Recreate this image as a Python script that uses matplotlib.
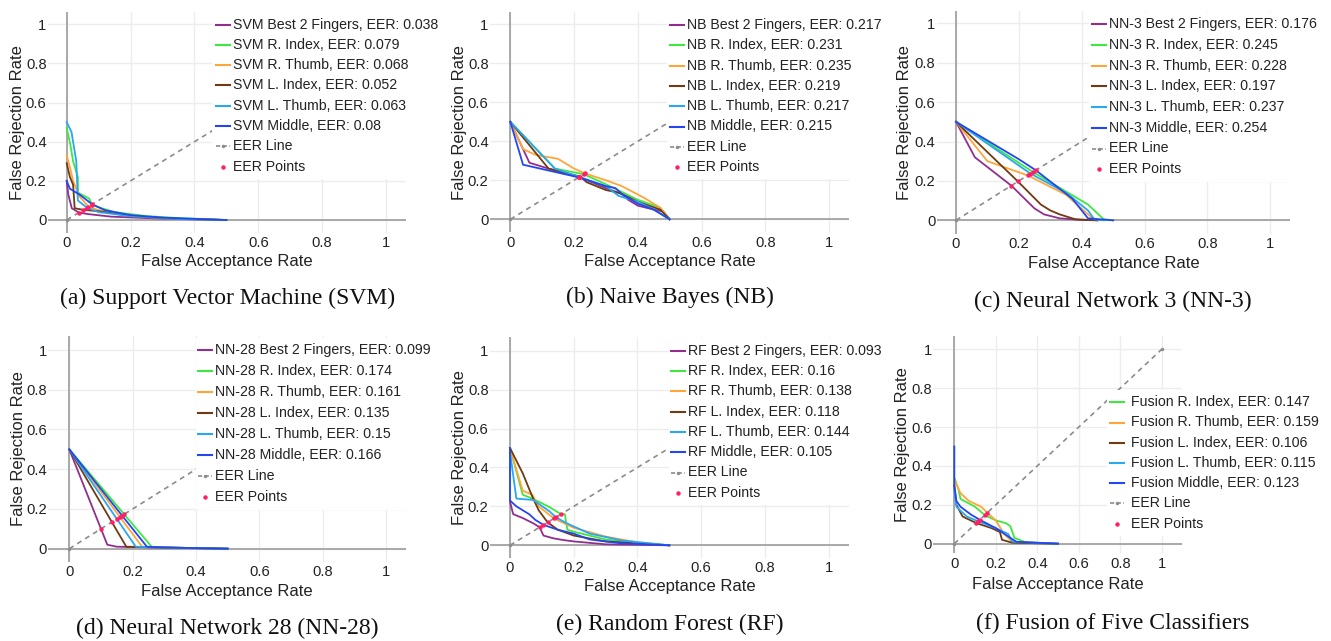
import matplotlib
matplotlib.use("Agg")
import matplotlib.pyplot as plt
from matplotlib.lines import Line2D
from matplotlib.patches import Rectangle

# ---------------- data ----------------
series_names = ["Best 2 Fingers", "R. Index", "R. Thumb", "L. Index", "L. Thumb", "Middle"]
series_colors = ["#912f8f", "#3ee83e", "#ffa53a", "#6e3b12", "#2aa6f2", "#2446f0"]

ticks = [0, 0.2, 0.4, 0.6, 0.8, 1]
tick_labels = ["0", "0.2", "0.4", "0.6", "0.8", "1"]

# (a) SVM  -- FAR (x) / FRR (y) pairs per finger
svm_eer = [0.038, 0.079, 0.068, 0.052, 0.063, 0.08]
svm_far = [
    [0, 0.005, 0.016, 0.038, 0.068, 0.14, 0.28, 0.5],
    [0, 0.012, 0.02, 0.035, 0.035, 0.07, 0.079, 0.1, 0.15, 0.25, 0.35, 0.5],
    [0, 0.01, 0.02, 0.04, 0.068, 0.1, 0.2, 0.35, 0.5],
    [0, 0.01, 0.02, 0.025, 0.052, 0.1, 0.2, 0.35, 0.5],
    [0, 0.015, 0.03, 0.035, 0.063, 0.1, 0.2, 0.35, 0.5],
    [0, 0.01, 0.04, 0.08, 0.12, 0.2, 0.3, 0.5],
]
svm_frr = [
    [0.2, 0.13, 0.06, 0.038, 0.03, 0.017, 0.008, 0],
    [0.47, 0.38, 0.3, 0.22, 0.14, 0.11, 0.079, 0.065, 0.04, 0.02, 0.01, 0],
    [0.33, 0.27, 0.2, 0.12, 0.068, 0.05, 0.02, 0.005, 0],
    [0.29, 0.22, 0.18, 0.06, 0.052, 0.045, 0.02, 0.006, 0],
    [0.5, 0.45, 0.3, 0.1, 0.063, 0.04, 0.02, 0.005, 0],
    [0.2, 0.16, 0.13, 0.08, 0.05, 0.025, 0.012, 0],
]

# (b) Naive Bayes
nb_eer = [0.217, 0.231, 0.235, 0.219, 0.217, 0.215]
nb_far = [
    [0, 0.06, 0.12, 0.217, 0.3, 0.35, 0.37, 0.4, 0.45, 0.48, 0.5],
    [0, 0.14, 0.231, 0.3, 0.35, 0.4, 0.47, 0.5],
    [0, 0.04, 0.08, 0.15, 0.2, 0.235, 0.3, 0.35, 0.42, 0.47, 0.5],
    [0, 0.12, 0.219, 0.24, 0.3, 0.33, 0.35, 0.4, 0.47, 0.5],
    [0, 0.14, 0.217, 0.3, 0.34, 0.4, 0.45, 0.5],
    [0, 0.04, 0.215, 0.3, 0.33, 0.35, 0.4, 0.45, 0.5],
]
nb_frr = [
    [0.5, 0.29, 0.26, 0.217, 0.16, 0.13, 0.1, 0.07, 0.05, 0.04, 0],
    [0.5, 0.26, 0.231, 0.18, 0.14, 0.1, 0.06, 0],
    [0.5, 0.36, 0.33, 0.31, 0.26, 0.235, 0.2, 0.17, 0.11, 0.06, 0],
    [0.5, 0.26, 0.219, 0.19, 0.15, 0.14, 0.13, 0.09, 0.05, 0],
    [0.5, 0.26, 0.217, 0.17, 0.12, 0.09, 0.05, 0],
    [0.5, 0.28, 0.215, 0.17, 0.16, 0.13, 0.08, 0.05, 0],
]

# (c) Neural Network 3
nn3_eer = [0.176, 0.245, 0.228, 0.197, 0.237, 0.254]
nn3_far = [
    [0, 0.06, 0.176, 0.25, 0.28, 0.33, 0.4, 0.45],
    [0, 0.245, 0.42, 0.47, 0.5],
    [0, 0.1, 0.228, 0.35, 0.42, 0.44, 0.45],
    [0, 0.197, 0.27, 0.3, 0.33, 0.38, 0.45],
    [0, 0.237, 0.35, 0.42, 0.44, 0.47],
    [0, 0.2, 0.254, 0.37, 0.42, 0.5],
]
nn3_frr = [
    [0.5, 0.32, 0.176, 0.06, 0.03, 0.01, 0.002, 0],
    [0.5, 0.245, 0.08, 0.005, 0],
    [0.5, 0.3, 0.228, 0.13, 0.03, 0.005, 0],
    [0.5, 0.197, 0.08, 0.05, 0.03, 0.005, 0],
    [0.5, 0.237, 0.14, 0.05, 0.005, 0],
    [0.5, 0.31, 0.254, 0.11, 0.01, 0],
]

# (d) Neural Network 28
nn28_eer = [0.099, 0.174, 0.161, 0.135, 0.15, 0.166]
nn28_far = [
    [0, 0.12, 0.15, 0.3, 0.5],
    [0, 0.26, 0.3, 0.5],
    [0, 0.23, 0.3, 0.5],
    [0, 0.18, 0.3, 0.5],
    [0, 0.21, 0.3, 0.5],
    [0, 0.245, 0.3, 0.5],
]
nn28_frr = [
    [0.5, 0.02, 0.01, 0.005, 0],
    [0.5, 0.01, 0.006, 0],
    [0.5, 0.01, 0.006, 0],
    [0.5, 0.01, 0.006, 0],
    [0.5, 0.01, 0.006, 0],
    [0.5, 0.01, 0.006, 0],
]

# (e) Random Forest
rf_eer = [0.093, 0.16, 0.138, 0.118, 0.144, 0.105]
rf_far = [
    [0, 0.01, 0.04, 0.073, 0.093, 0.105, 0.136, 0.167, 0.2, 0.3, 0.5],
    [0, 0.04, 0.07, 0.12, 0.14, 0.16, 0.172, 0.18, 0.2, 0.3, 0.4, 0.5],
    [0, 0.04, 0.07, 0.09, 0.138, 0.2, 0.3, 0.4, 0.5],
    [0, 0.04, 0.07, 0.09, 0.118, 0.15, 0.2, 0.3, 0.5],
    [0, 0.02, 0.073, 0.125, 0.144, 0.178, 0.25, 0.35, 0.5],
    [0, 0, 0.02, 0.06, 0.08, 0.105, 0.15, 0.2, 0.25, 0.35, 0.5],
]
rf_frr = [
    [0.224, 0.16, 0.14, 0.113, 0.093, 0.05, 0.036, 0.027, 0.02, 0.005, 0],
    [0.5, 0.26, 0.24, 0.2, 0.18, 0.16, 0.16, 0.08, 0.07, 0.03, 0.01, 0],
    [0.5, 0.28, 0.26, 0.2, 0.138, 0.09, 0.045, 0.015, 0],
    [0.5, 0.37, 0.25, 0.18, 0.118, 0.08, 0.05, 0.02, 0],
    [0.48, 0.24, 0.233, 0.173, 0.144, 0.113, 0.06, 0.025, 0],
    [0.5, 0.23, 0.2, 0.16, 0.13, 0.105, 0.08, 0.06, 0.03, 0.01, 0],
]

# (f) Fusion of five classifiers (no "Best 2 Fingers")
fusion_eer = [0.147, 0.159, 0.106, 0.115, 0.123]
fusion_far = [
    [0, 0.02, 0.03, 0.1, 0.147, 0.2, 0.25, 0.27, 0.29, 0.35, 0.5],
    [0, 0.03, 0.07, 0.13, 0.159, 0.2, 0.24, 0.28, 0.5],
    [0, 0.01, 0.04, 0.106, 0.18, 0.22, 0.23, 0.28, 0.5],
    [0, 0.01, 0.03, 0.06, 0.115, 0.2, 0.26, 0.28, 0.5],
    [0, 0, 0.01, 0.03, 0.08, 0.123, 0.2, 0.27, 0.3, 0.5],
]
fusion_frr = [
    [0.34, 0.28, 0.23, 0.19, 0.147, 0.12, 0.105, 0.09, 0.03, 0.005, 0],
    [0.33, 0.26, 0.22, 0.19, 0.159, 0.12, 0.05, 0.01, 0],
    [0.3, 0.2, 0.14, 0.106, 0.08, 0.06, 0.02, 0.005, 0],
    [0.28, 0.19, 0.17, 0.14, 0.115, 0.08, 0.05, 0.01, 0],
    [0.5, 0.3, 0.22, 0.19, 0.15, 0.123, 0.08, 0.03, 0.01, 0],
]

# ---------------- layout (pixel geometry of each panel) ----------------
W, H = 1331, 641
SANS = ["Liberation Sans", "DejaVu Sans"]
SERIF = ["Liberation Serif", "DejaVu Serif"]
EER_LINE_COLOR = "#8c8c8c"
EER_PT_COLOR = "#ff1f66"

panels = [
    dict(prefix="SVM", far=svm_far, frr=svm_frr, eer=svm_eer, idx=[0, 1, 2, 3, 4, 5],
         caption="(a) Support Vector Machine (SVM)",
         x0=66.7, x1=386, y0=220, y1=24.3, L=48, R=406, T=11.7, B=233,
         sx=216, tx=233, ly=24.5, dy=20.3, bl=212, bt=12, br=446, ylx=17.5, xly=261.7, cx=227.5, cy=298.3),
    dict(prefix="NB", far=nb_far, frr=nb_frr, eer=nb_eer, idx=[0, 1, 2, 3, 4, 5],
         caption="(b) Naive Bayes (NB)",
         x0=510.3, x1=829, y0=219.3, y1=24.3, L=490, R=849, T=11.7, B=232.5,
         sx=670, tx=687.3, ly=25, dy=20.3, bl=667, bt=12, br=889, ylx=459.5, xly=261.7, cx=669.6, cy=297.7),
    dict(prefix="NN-3", far=nn3_far, frr=nn3_frr, eer=nn3_eer, idx=[0, 1, 2, 3, 4, 5],
         caption="(c) Neural Network 3 (NN-3)",
         x0=956, x1=1270.3, y0=220.3, y1=23.3, L=936.7, R=1290, T=11, B=233.5,
         sx=1091.7, tx=1109.3, ly=24.3, dy=20.7, bl=1089, bt=12, br=1331, ylx=905, xly=263.3, cx=1112.7, cy=301.7),
    dict(prefix="NN-28", far=nn28_far, frr=nn28_frr, eer=nn28_eer, idx=[0, 1, 2, 3, 4, 5],
         caption="(d) Neural Network 28 (NN-28)",
         x0=69.3, x1=386, y0=548.7, y1=350, L=48.3, R=406, T=336, B=561.8,
         sx=197.7, tx=215, ly=350, dy=21, bl=196, bt=338, br=446, ylx=18.5, xly=591.7, cx=227, cy=628.3),
    dict(prefix="RF", far=rf_far, frr=rf_frr, eer=rf_eer, idx=[0, 1, 2, 3, 4, 5],
         caption="(e) Random Forest (RF)",
         x0=510, x1=828.7, y0=545.3, y1=350.7, L=490, R=849.3, T=336.7, B=558,
         sx=670.7, tx=688.3, ly=350.7, dy=20.3, bl=669, bt=338, br=889, ylx=459.5, xly=586.7, cx=669.5, cy=624),
    dict(prefix="Fusion", far=fusion_far, frr=fusion_frr, eer=fusion_eer, idx=[1, 2, 3, 4, 5],
         caption="(f) Fusion of Five Classifiers",
         x0=954.3, x1=1161.7, y0=543.7, y1=349.3, L=933.3, R=1181.7, T=336, B=553.3,
         sx=1110, tx=1130.7, ly=402.3, dy=20.2, bl=1107, bt=390, br=1331, ylx=902, xly=585, cx=1112.7, cy=623.3),
]


def fx(px):
    return px / W


def fy(py):
    return 1 - py / H


fig = plt.figure(figsize=(W / 100, H / 100), dpi=100)
fig.patch.set_facecolor("white")

for p in panels:
    ax = fig.add_axes([fx(p["L"]), fy(p["B"]), (p["R"] - p["L"]) / W, (p["B"] - p["T"]) / H])
    sxu = p["x1"] - p["x0"]
    syu = p["y0"] - p["y1"]
    ax.set_xlim((p["L"] - p["x0"]) / sxu, (p["R"] - p["x0"]) / sxu)
    ax.set_ylim((p["y0"] - p["B"]) / syu, (p["y0"] - p["T"]) / syu)
    for s in ax.spines.values():
        s.set_visible(False)
    ax.set_xticks(ticks)
    ax.set_xticklabels(tick_labels, fontfamily=SANS, fontsize=10.6, color="#222222")
    ax.set_yticks(ticks)
    ax.set_yticklabels(tick_labels, fontfamily=SANS, fontsize=10.6, color="#222222")
    ax.tick_params(axis="both", length=0)
    ax.tick_params(axis="x", pad=2.5)
    ax.tick_params(axis="y", pad=1.0)
    ax.grid(True, color="#ededed", lw=1.0, zorder=0)
    ax.set_axisbelow(True)
    ax.axhline(0, color="#a9a9a9", lw=1.4, zorder=1)
    ax.axvline(0, color="#a9a9a9", lw=1.4, zorder=1)

    # EER reference line
    ax.plot([0, 1], [0, 1], color=EER_LINE_COLOR, lw=1.2, ls=(0, (3, 2.6)),
            marker="o", ms=2.5, mec="none", zorder=2)

    for k, i in enumerate(p["idx"]):
        ax.plot(p["far"][k], p["frr"][k], color=series_colors[i], lw=1.3, zorder=3 + k,
                solid_joinstyle="round")
    ax.plot(p["eer"], p["eer"], ls="none", marker="o", ms=3.2, color=EER_PT_COLOR,
            mec="none", zorder=20)

    # axis titles
    fig.text(fx(p["ylx"]), fy((p["T"] + p["B"]) / 2), "False Rejection Rate", rotation=90,
             ha="center", va="center", fontfamily=SANS, fontsize=12, color="#222222")
    fig.text(fx((p["L"] + p["R"]) / 2), fy(p["xly"]), "False Acceptance Rate",
             ha="center", va="center", fontfamily=SANS, fontsize=12, color="#222222")

    # legend (white box covering the plot area behind it)
    n_rows = len(p["idx"]) + 2
    box_bottom = p["ly"] + (n_rows - 0.5) * p["dy"] + 2
    fig.add_artist(Rectangle((fx(p["bl"]), fy(box_bottom)), (p["br"] - p["bl"]) / W,
                             (box_bottom - p["bt"]) / H, transform=fig.transFigure,
                             facecolor="white", edgecolor="none", zorder=5))
    rows = [(series_names[i], series_colors[i]) for i in p["idx"]]
    for r, (name, col) in enumerate(rows):
        yy = p["ly"] + r * p["dy"]
        fig.add_artist(Line2D([fx(p["sx"]), fx(p["sx"] + 14)], [fy(yy), fy(yy)],
                              transform=fig.transFigure, color=col, lw=1.5, zorder=6))
        fig.text(fx(p["tx"]), fy(yy), f"{p['prefix']} {name}, EER: {p['eer'][r]:g}",
                 ha="left", va="center", fontfamily=SANS, fontsize=10.2, color="#222222", zorder=7)
    yy = p["ly"] + len(rows) * p["dy"]
    fig.add_artist(Line2D([fx(p["sx"]), fx(p["sx"] + 14)], [fy(yy), fy(yy)],
                          transform=fig.transFigure, color=EER_LINE_COLOR, lw=1.2,
                          ls=(0, (2.5, 1.5)), zorder=6))
    fig.add_artist(Line2D([fx(p["sx"] + 7)], [fy(yy)], transform=fig.transFigure,
                          ls="none", marker="o", ms=2.5, color=EER_LINE_COLOR, mec="none", zorder=6))
    fig.text(fx(p["tx"]), fy(yy), "EER Line", ha="left", va="center",
             fontfamily=SANS, fontsize=10.2, color="#222222", zorder=7)
    yy = p["ly"] + (len(rows) + 1) * p["dy"]
    fig.add_artist(Line2D([fx(p["sx"] + 7)], [fy(yy)], transform=fig.transFigure,
                          ls="none", marker="o", ms=3.2, color=EER_PT_COLOR, mec="none", zorder=6))
    fig.text(fx(p["tx"]), fy(yy), "EER Points", ha="left", va="center",
             fontfamily=SANS, fontsize=10.2, color="#222222", zorder=7)

    # caption
    fig.text(fx(p["cx"]), fy(p["cy"]), p["caption"], ha="center", va="center",
             fontfamily=SERIF, fontsize=17, color="#111111")

fig.savefig("out.png", dpi=100, facecolor="white")
